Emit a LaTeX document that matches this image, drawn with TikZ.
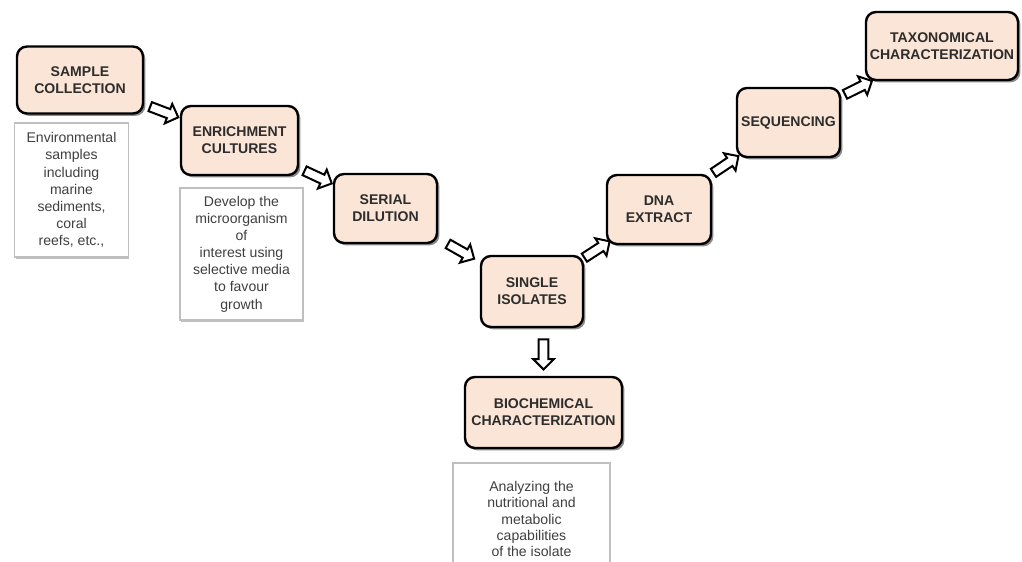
\documentclass[tikz,border=0pt]{standalone}
\usepackage{fontspec}
\setmainfont{Liberation Sans}
\usetikzlibrary{shapes.arrows,shadows}
\definecolor{peach}{RGB}{250,229,214}
\definecolor{inkgray}{RGB}{45,45,45}

\begin{document}
\begin{tikzpicture}[%
			x=0.025cm, y=-0.025cm,
			stage/.style={draw=black, line width=0.06cm, rounded corners=0.25cm, fill=peach,
				align=center, inner sep=1pt, text=inkgray, font=\fontsize{10}{12}\selectfont\bfseries,
				drop shadow={shadow xshift=0.06cm, shadow yshift=-0.06cm, fill=black, opacity=0.45}},
			note/.style={draw=black!25, line width=0.03cm, fill=white, align=center, text=black!75,
				font=\fontsize{10}{12.2}\selectfont,
				drop shadow={shadow xshift=0.03cm, shadow yshift=-0.05cm, fill=black!50, opacity=0.5}},
			hollow/.style={single arrow, draw=black, line width=0.05cm, fill=white, sloped,
				minimum height=0.75cm, single arrow head extend=0.14cm, inner sep=0.095cm}
			]
			\useasboundingbox (0,0) rectangle (1022,561);
			\node[stage, minimum width=3.15cm, minimum height=1.675cm] (1) at (80,80) {SAMPLE\\ COLLECTION};
			\node[note, minimum width=2.83cm, minimum height=3.35cm] (1sub) at (71.5,190)
				{Environmental\\ samples\\ including\\ marine\\ sediments,\\ coral\\ reefs, etc.,};
			\node[stage, minimum width=2.925cm, minimum height=1.725cm] (2) at (239.5,140.5) {ENRICHMENT\\ CULTURES};
			\node[note, minimum width=3.075cm, minimum height=3.3cm] (2sub) at (241.5,254)
				{Develop the\\ microorganism\\ of\\ interest using\\ selective media\\ to favour\\ growth};
			\node[stage, minimum width=2.575cm, minimum height=1.725cm] (3) at (385.5,208.5) {SERIAL\\ DILUTION};
			\node[stage, minimum width=2.55cm, minimum height=1.775cm] (4) at (532,291.5) {SINGLE\\ ISOLATES};
			\node[stage, minimum width=3.925cm, minimum height=1.775cm] (5) at (543.5,412.5) {BIOCHEMICAL\\ CHARACTERIZATION};
			\node[note, minimum width=3.925cm, minimum height=2.8cm, font=\fontsize{10}{11.5}\selectfont] (5sub) at (531.5,519)
				{Analyzing the\\ nutritional and\\ metabolic\\ capabilities\\ of the isolate};
			\node[stage, minimum width=2.6cm, minimum height=1.725cm] (6) at (659,209.5) {DNA\\ EXTRACT};
			\node[stage, minimum width=2.575cm, minimum height=1.725cm] (7) at (788.5,122.5) {SEQUENCING};
			\node[stage, minimum width=3.8cm, minimum height=1.7cm] (8) at (942,46) {TAXONOMICAL\\ CHARACTERIZATION};

			\path (1) -- node[hollow] {} (2);
			\path (2) -- node[hollow] {} (3);
			\path (3) -- node[hollow] {} (4);
			\path (4) -- node[hollow] {} (6);
			\path (6) -- node[hollow] {} (7);
			\path (7) -- node[hollow] {} (8);
			\path (4.south -| 5) -- node[hollow] {} (5.north);
		\end{tikzpicture}
\end{document}
